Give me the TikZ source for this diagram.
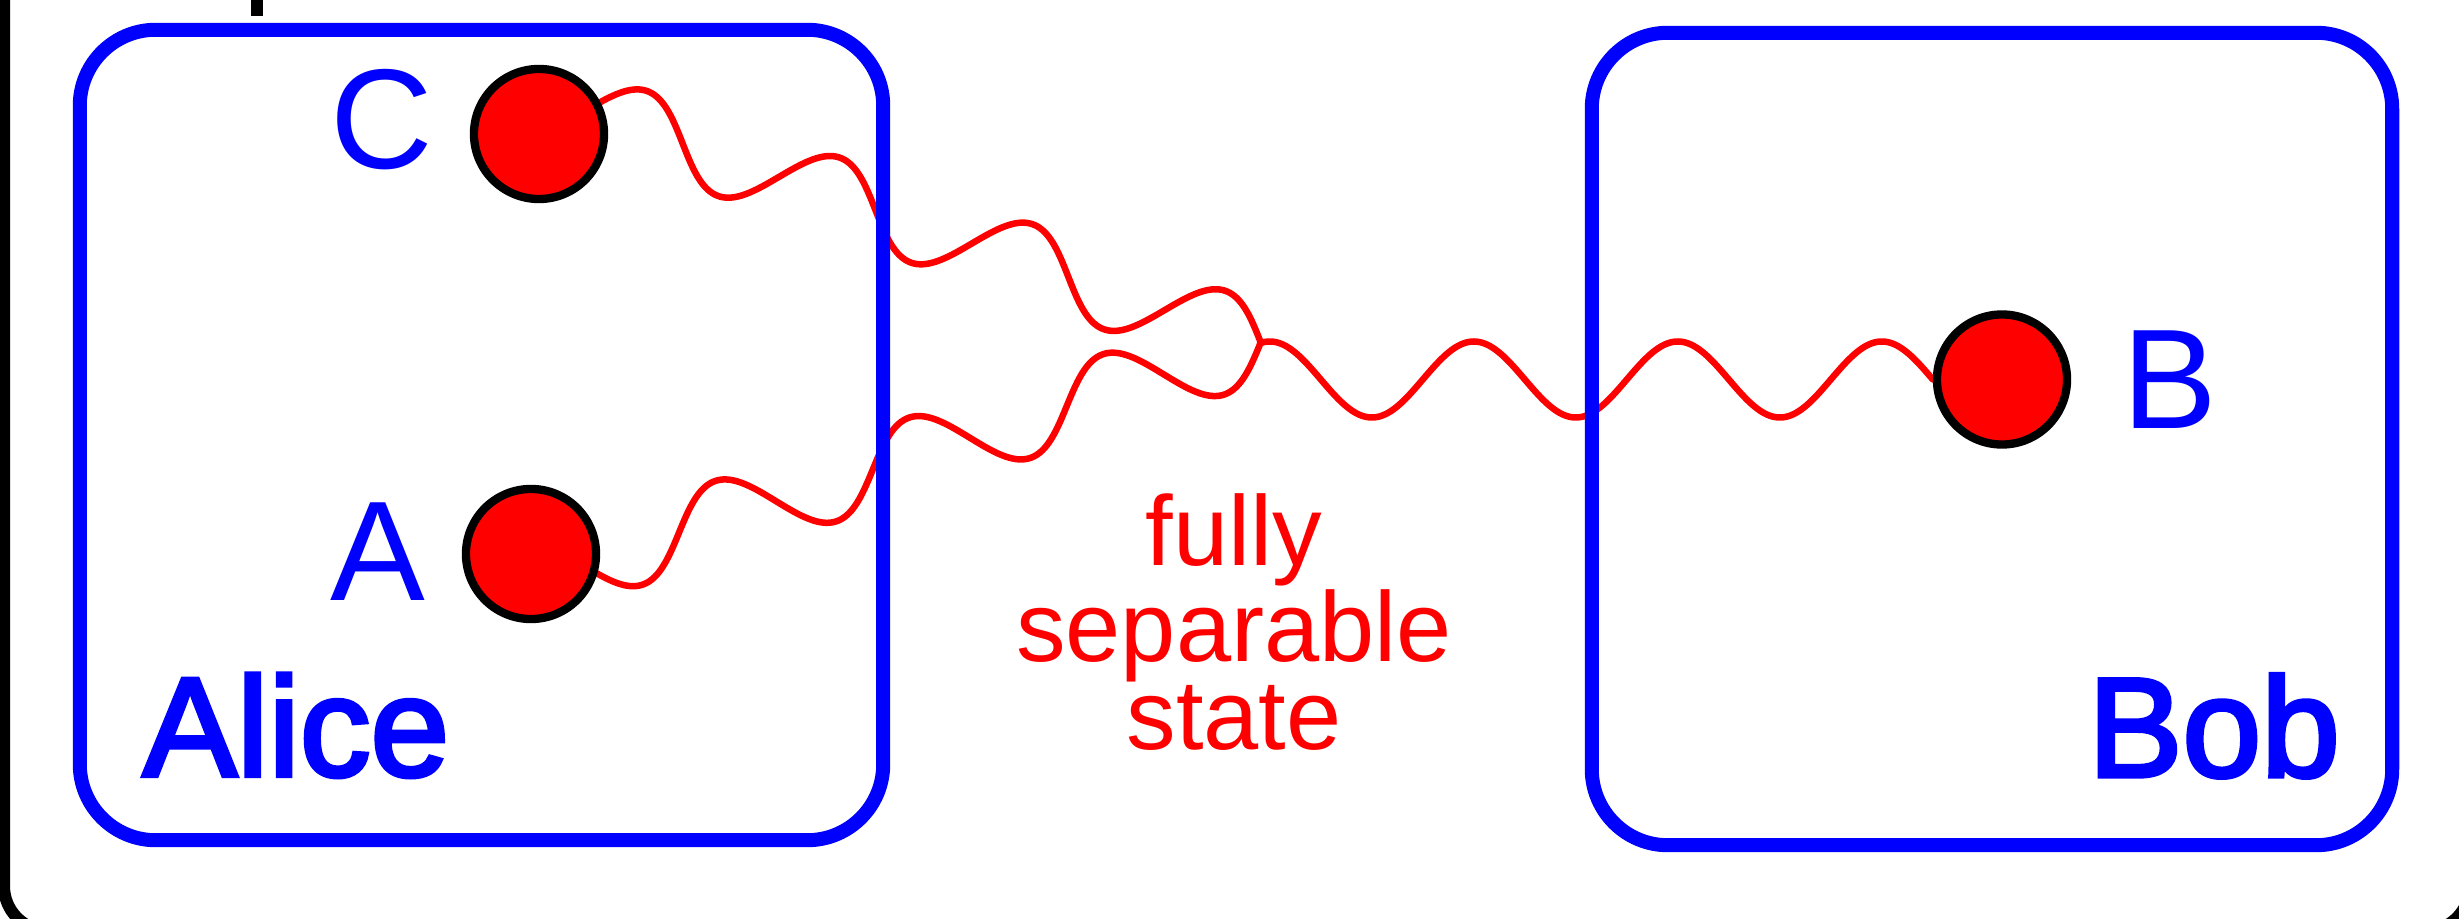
\documentclass[tikz,border=0pt]{standalone}
\usepackage{fontspec}
\setmainfont{Liberation Sans}
\newfontfamily\partyfont[FakeBold=3]{Liberation Sans}
\usetikzlibrary{backgrounds}
\definecolor{pblue}{RGB}{0,0,255}
\definecolor{pred}{RGB}{255,0,0}
\tikzset{
  partybox/.style={draw=pblue, line width=0.14cm, rounded corners=0.76cm, rectangle, inner sep=0pt},
  qubit/.style={circle, draw=black, fill=pred, line width=0.083cm, minimum size=1.30cm, inner sep=0pt},
  qlabel/.style={text=pblue, inner sep=0pt, anchor=base, font=\fontsize{40.4pt}{48pt}\selectfont},
  partylabel/.style={text=pblue, inner sep=0pt, anchor=base, font=\partyfont\fontsize{40.2pt}{48pt}\selectfont},
  wave/.style={draw=pred, line width=0.065cm, line cap=round},
  note/.style={text=pred, inner sep=0pt, align=center, font=\fontsize{28.2pt}{25.2pt}\selectfont}
}
\begin{document}
\begin{tikzpicture}[x=0.01cm, y=-0.01cm]
\clip (0,0) rectangle (2459,919);
% outer frame (mostly outside the view)
\draw[line width=0.12cm, rounded corners=0.45cm] (4,-100) rectangle (2470,931);
\fill (251,0) rectangle (263,16);
% parties
\node[partybox, minimum width=8.03cm, minimum height=8.10cm] (alice) at (481.5,435) {};
\node[partybox, minimum width=8.00cm, minimum height=8.12cm] (bob) at (1992,439) {};
\node[partylabel] (alicelab) at (296,776) {Alice};
\node[partylabel] (boblab) at (2214,776.5) {Bob};
% qubits
\node[qubit] (C) at (539,134) {};
\node[qubit] (A) at (531,554) {};
\node[qubit] (B) at (2002,379.5) {};
\node[qlabel] (Clab) at (382,169) {C};
\node[qlabel] (Alab) at (378,601) {A};
\node[qlabel] (Blab) at (2170,429) {B};
% wave anchors
\coordinate (J) at (1260,343);
\coordinate (Cw) at (586.25,110.25);
\coordinate (Aw) at (582,564.5);
\begin{pgfonlayer}{background}
\begin{scope}[shift={(Cw)}, rotate=-19.06]
  \draw[wave] plot[domain=0:3.5, samples=300, variable=\t] ({\t*204}, {-38*sin(\t*360)});
\end{scope}
\begin{scope}[shift={(Aw)}, rotate=18.1]
  \draw[wave] plot[domain=0:3.5, samples=300, variable=\t] ({\t*204}, {38*sin(\t*360)});
\end{scope}
\begin{scope}[shift={(B.west)}, rotate=180]
  \draw[wave] plot[domain=0:3.299, samples=300, variable=\t] ({\t*204}, {38*sin(\t*360)});
\end{scope}
\end{pgfonlayer}
\node[note] (fss) at (1234,622) {fully\\separable\\state};
\end{tikzpicture}
\end{document}
